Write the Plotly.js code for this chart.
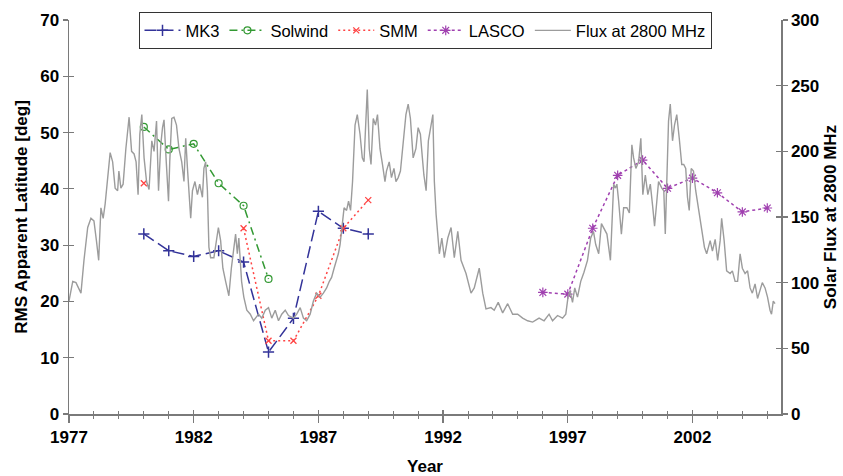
<!DOCTYPE html>
<html>
<head>
<meta charset="utf-8">
<script src="https://cdn.plot.ly/plotly-3.0.1.min.js"></script>
<style>html,body{margin:0;padding:0;background:#fff;}#chart{width:843px;height:476px;}</style>
</head>
<body>
<div id="chart"></div>
<script>
// ---- data ----
const obsYears = [1980, 1981, 1982, 1983, 1984, 1985, 1986, 1987, 1988, 1989];
const mk3 =     [32, 29, 28, 29, 27, 11, 17, 36, 33, 32];
const solwind = [51, 47, 48, 41, 37, 24, null, null, null, null];
const smm =     [41, null, null, null, 33, 13, 13, 21, 33, 38];

const lascoYears = [1996, 1997, 1998, 1999, 2000, 2001, 2002, 2003, 2004, 2005];
const lasco =      [21.6, 21.3, 33, 42.4, 45.1, 40.1, 41.9, 39.3, 35.9, 36.6];

const fluxYears = [
 1977.0,1977.15,1977.28,1977.48,1977.6,1977.75,1977.88,1978.0,1978.1,1978.19,1978.28,1978.37,1978.45,1978.55,1978.65,1978.75,1978.85,1978.95,
 1979.0,1979.08,1979.17,1979.28,1979.41,1979.51,1979.61,1979.69,1979.77,1979.84,1979.92,1980.01,1980.11,1980.21,1980.32,1980.41,1980.51,1980.59,
 1980.68,1980.75,1980.81,1980.9,1980.99,1981.04,1981.12,1981.21,1981.31,1981.41,1981.52,1981.61,1981.68,1981.75,1981.88,1981.95,1982.05,1982.15,
 1982.24,1982.35,1982.41,1982.48,1982.55,1982.61,1982.68,1982.81,1982.91,1982.99,1983.08,1983.17,1983.28,1983.41,1983.51,1983.61,1983.68,1983.75,
 1983.81,1983.92,1984.01,1984.13,1984.27,1984.4,1984.6,1984.73,1984.87,1985.0,1985.13,1985.27,1985.4,1985.53,1985.67,1985.8,1986.0,1986.13,
 1986.27,1986.4,1986.53,1986.67,1986.8,1986.93,1987.07,1987.2,1987.33,1987.44,1987.53,1987.63,1987.73,1987.8,1987.87,1987.95,1988.03,1988.13,
 1988.21,1988.29,1988.37,1988.47,1988.56,1988.67,1988.76,1988.83,1988.89,1988.96,1989.04,1989.11,1989.2,1989.29,1989.37,1989.47,1989.57,1989.67,
 1989.73,1989.84,1989.93,1990.03,1990.11,1990.2,1990.29,1990.4,1990.51,1990.6,1990.69,1990.8,1990.91,1991.0,1991.09,1991.17,1991.23,1991.32,
 1991.41,1991.59,1991.65,1991.72,1991.85,1991.95,1992.05,1992.19,1992.32,1992.45,1992.59,1992.72,1992.92,1993.12,1993.25,1993.45,1993.59,1993.72,
 1993.92,1994.05,1994.21,1994.39,1994.59,1994.79,1994.99,1995.19,1995.39,1995.59,1995.85,1996.05,1996.25,1996.39,1996.59,1996.79,1996.92,1997.01,
 1997.09,1997.19,1997.28,1997.39,1997.52,1997.65,1997.79,1997.92,1998.03,1998.12,1998.24,1998.35,1998.44,1998.57,1998.71,1998.84,1998.91,1998.97,
 1999.04,1999.15,1999.24,1999.37,1999.47,1999.57,1999.64,1999.73,1999.84,1999.93,2000.01,2000.11,2000.21,2000.31,2000.41,2000.48,2000.57,2000.64,
 2000.77,2000.85,2000.91,2000.97,2001.04,2001.11,2001.2,2001.28,2001.37,2001.47,2001.57,2001.65,2001.73,2001.8,2001.87,2001.95,2002.04,2002.13,
 2002.24,2002.37,2002.48,2002.57,2002.71,2002.8,2002.91,2003.01,2003.11,2003.17,2003.27,2003.37,2003.51,2003.6,2003.71,2003.81,2003.91,2004.0,
 2004.11,2004.21,2004.31,2004.4,2004.51,2004.61,2004.71,2004.8,2004.91,2005.01,2005.11,2005.17,2005.24,2005.31
];
const fluxValues = [
 86,101,100,92,117,142,149,147,132,117,157,149,160,182,199,192,172,170,
 185,172,175,202,226,200,198,192,167,213,228,195,177,171,208,200,223,170,
 205,218,224,192,162,192,225,226,220,202,192,177,210,187,149,170,177,167,
 175,165,187,192,170,127,119,119,134,142,132,111,101,90,111,127,137,122,
 134,101,89,79,76,71,76,73,79,81,73,79,71,76,79,75,73,76,
 81,73,71,76,86,92,89,92,96,101,104,111,117,122,129,142,157,155,
 162,155,177,220,228,213,195,192,215,247,202,190,225,220,228,202,190,177,
 185,192,180,187,177,180,185,208,228,236,225,195,202,218,213,195,182,170,
 208,228,177,152,122,134,119,134,142,119,139,117,107,92,96,111,92,80,
 81,79,85,77,84,76,76,73,71,70,73,71,76,71,75,73,76,89,
 94,85,96,89,101,108,117,134,139,129,122,145,142,137,117,175,172,175,
 162,137,157,157,153,205,195,187,192,210,167,182,167,175,157,143,162,177,
 172,170,137,175,223,236,208,220,228,210,190,190,187,165,155,187,185,170,
 157,142,127,122,132,124,133,117,132,149,132,109,107,109,101,101,122,111,
 107,109,96,92,99,88,94,100,96,89,79,76,86,84
];

const xTickVals = [1977, 1982, 1987, 1992, 1997, 2002];
const xTickText = ['1977', '1982', '1987', '1992', '1997', '2002'];

// ---- styling ----
const FONT = 'Liberation Sans, Arial, sans-serif';
const tickFont = {family: FONT, size: 17, color: '#000', weight: 'bold'};
const titleFont = {family: FONT, size: 17, color: '#000', weight: 'bold'};
const axisColor = '#7a7a7a';
const xRange = [1977, 2005.55];

const traces = [
  {name: 'Flux at 2800 MHz', x: fluxYears, y: fluxValues, yaxis: 'y2', mode: 'lines',
   line: {color: '#9c9c9c', width: 1.4}, legendrank: 5},
  {name: 'MK3', x: obsYears, y: mk3, mode: 'lines+markers',
   line: {color: '#333399', width: 1.5, dash: '12px,5px'},
   marker: {symbol: 'cross-thin-open', size: 8, line: {color: '#333399', width: 1.5}}, legendrank: 1},
  {name: 'Solwind', x: obsYears, y: solwind, mode: 'lines+markers', connectgaps: false,
   line: {color: '#339933', width: 1.5, dash: '8px,4px,2px,4px'},
   marker: {symbol: 'circle-open', size: 7, color: '#339933', line: {color: '#339933', width: 1.2}}, legendrank: 2},
  {name: 'SMM', x: obsYears, y: smm, mode: 'lines+markers', connectgaps: false,
   line: {color: '#ff4444', width: 1.5, dash: '2px,3px'},
   marker: {symbol: 'x-thin-open', size: 6, line: {color: '#ff4444', width: 1.3}}, legendrank: 3},
  {name: 'LASCO', x: lascoYears, y: lasco, mode: 'lines+markers',
   line: {color: '#a040b0', width: 1.5, dash: '3px,3px'},
   marker: {symbol: 'asterisk-open', size: 8, line: {color: '#993399', width: 1.2}}, legendrank: 4},
  // empty helpers so the inside half of the crossing ticks is drawn
  {x: [null], y: [null], xaxis: 'x3', yaxis: 'y', showlegend: false, hoverinfo: 'skip'},
  {x: [null], y: [null], xaxis: 'x', yaxis: 'y3', showlegend: false, hoverinfo: 'skip'},
  {x: [null], y: [null], xaxis: 'x', yaxis: 'y4', showlegend: false, hoverinfo: 'skip'}
];

const layout = {
  width: 843, height: 476,
  margin: {l: 69, r: 62, t: 18, b: 62},
  paper_bgcolor: '#fff', plot_bgcolor: '#fff',
  showlegend: true,
  legend: {orientation: 'h', x: 0.5, xanchor: 'center', y: 1.02, yanchor: 'top',
           bgcolor: '#fff', bordercolor: '#333', borderwidth: 1,
           font: {family: FONT, size: 16.5, color: '#000'}, itemwidth: 36},
  xaxis: {range: xRange, tickmode: 'array', tickvals: xTickVals, ticktext: xTickText, automargin: false,
          showgrid: false, zeroline: false, showline: true, linecolor: axisColor, linewidth: 1.5,
          ticks: 'outside', ticklen: 7, tickwidth: 1.2, tickcolor: axisColor,
          minor: {dtick: 1, tick0: 1977, ticks: 'outside', ticklen: 3, tickwidth: 1, tickcolor: axisColor, showgrid: false},
          tickfont: tickFont,
          title: {text: 'Year', font: titleFont, standoff: 14}},
  xaxis3: {overlaying: 'x', anchor: 'y', range: xRange, tickmode: 'array', tickvals: xTickVals, automargin: false,
           showticklabels: false, showgrid: false, zeroline: false, showline: false,
           ticks: 'inside', ticklen: 4, tickwidth: 1.2, tickcolor: axisColor,
           minor: {dtick: 1, tick0: 1977, ticks: 'inside', ticklen: 3, tickwidth: 1, tickcolor: axisColor, showgrid: false}},
  yaxis: {range: [0, 70], dtick: 10, showgrid: false, zeroline: false, showline: true, automargin: false,
          linecolor: axisColor, linewidth: 1.5, ticks: 'outside', ticklen: 5, tickwidth: 1.2, tickcolor: axisColor,
          tickfont: tickFont,
          title: {text: 'RMS Apparent Latitude [deg]', font: titleFont, standoff: 8}},
  yaxis3: {overlaying: 'y', anchor: 'x', range: [0, 70], dtick: 10, showticklabels: false, automargin: false,
           showgrid: false, zeroline: false, showline: false,
           ticks: 'inside', ticklen: 5, tickwidth: 1.2, tickcolor: axisColor},
  yaxis2: {overlaying: 'y', side: 'right', anchor: 'x', range: [0, 300], dtick: 50, automargin: false,
           showgrid: false, zeroline: false, showline: true, linecolor: axisColor, linewidth: 1.5,
           ticks: 'outside', ticklen: 5, tickwidth: 1.2, tickcolor: axisColor,
           tickfont: tickFont,
           title: {text: 'Solar Flux at 2800 MHz', font: titleFont, standoff: 6}},
  yaxis4: {overlaying: 'y', side: 'right', anchor: 'x', range: [0, 300], dtick: 50, showticklabels: false, automargin: false,
           showgrid: false, zeroline: false, showline: false,
           ticks: 'inside', ticklen: 5, tickwidth: 1.2, tickcolor: axisColor}
};

Plotly.newPlot('chart', traces, layout, {staticPlot: true, displayModeBar: false});
</script>
</body>
</html>
